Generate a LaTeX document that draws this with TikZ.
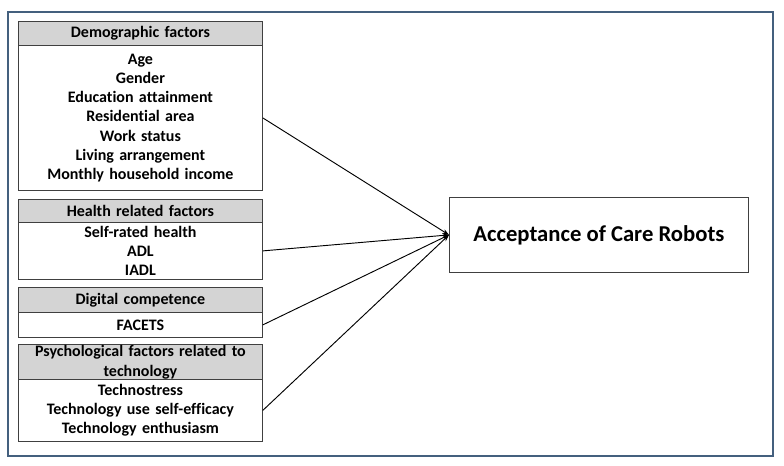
\documentclass[tikz,border=0pt]{standalone}
\usepackage{fontspec}
\setmainfont{Carlito}[Ligatures=NoCommon]
\usetikzlibrary{arrows.meta}
\definecolor{frame}{HTML}{44607E}
\definecolor{hdrgray}{HTML}{D4D4D4}
\begin{document}
\begin{tikzpicture}[x=0.75pt,y=-0.75pt,
  txt/.style={font=\bfseries\fontsize{12}{14.4}\selectfont},
  hdr/.style={draw=black!75, line width=0.6pt, fill=hdrgray, minimum width=183pt, text width=182pt,
    align=center, inner sep=0pt, anchor=north west, txt},
  body/.style={draw=black!75, line width=0.6pt, fill=white, minimum width=183pt, text width=182pt,
    align=center, inner sep=0pt, anchor=north west, txt},
  conn/.style={line width=0.7pt, -{Stealth[length=5pt,width=3.5pt]}}]
\useasboundingbox (0,0) rectangle (784,466);
\draw[frame, line width=0.9pt] (8,12) rectangle (773,456);

\node[hdr, minimum height=18pt] (h1) at (18,21) {Demographic factors};
\node[body, minimum height=108.75pt] (b1) at (18,45) {Age\\Gender\\Education attainment\\Residential area\\Work status\\Living arrangement\\Monthly household income};

\node[hdr, minimum height=17.25pt] (h2) at (18,199) {Health related factors};
\node[body, minimum height=42.75pt] (b2) at (18,222) {Self-rated health\\ADL\\IADL};

\node[hdr, minimum height=18.75pt] (h3) at (18,287) {Digital competence};
\node[body, minimum height=18.75pt] (b3) at (18,312) {FACETS};

\node[hdr, minimum height=26.25pt, font=\bfseries\fontsize{12}{15}\selectfont] (h4) at (18,344) {Psychological factors related to\\technology};
\node[body, minimum height=46.5pt] (b4) at (18,379) {Technostress\\Technology use self-efficacy\\Technology enthusiasm};

\node[draw=black!75, line width=0.6pt, minimum width=224.25pt, minimum height=56.25pt, anchor=north west,
  font=\bfseries\fontsize{17}{20}\selectfont] (t) at (449,197) {Acceptance of Care Robots};

\draw[conn] (b1.east) -- (t.west);
\draw[conn] (b2.east) -- (t.west);
\draw[conn] (b3.east) -- (t.west);
\draw[conn] (b4.east) -- (t.west);
\end{tikzpicture}
\end{document}
